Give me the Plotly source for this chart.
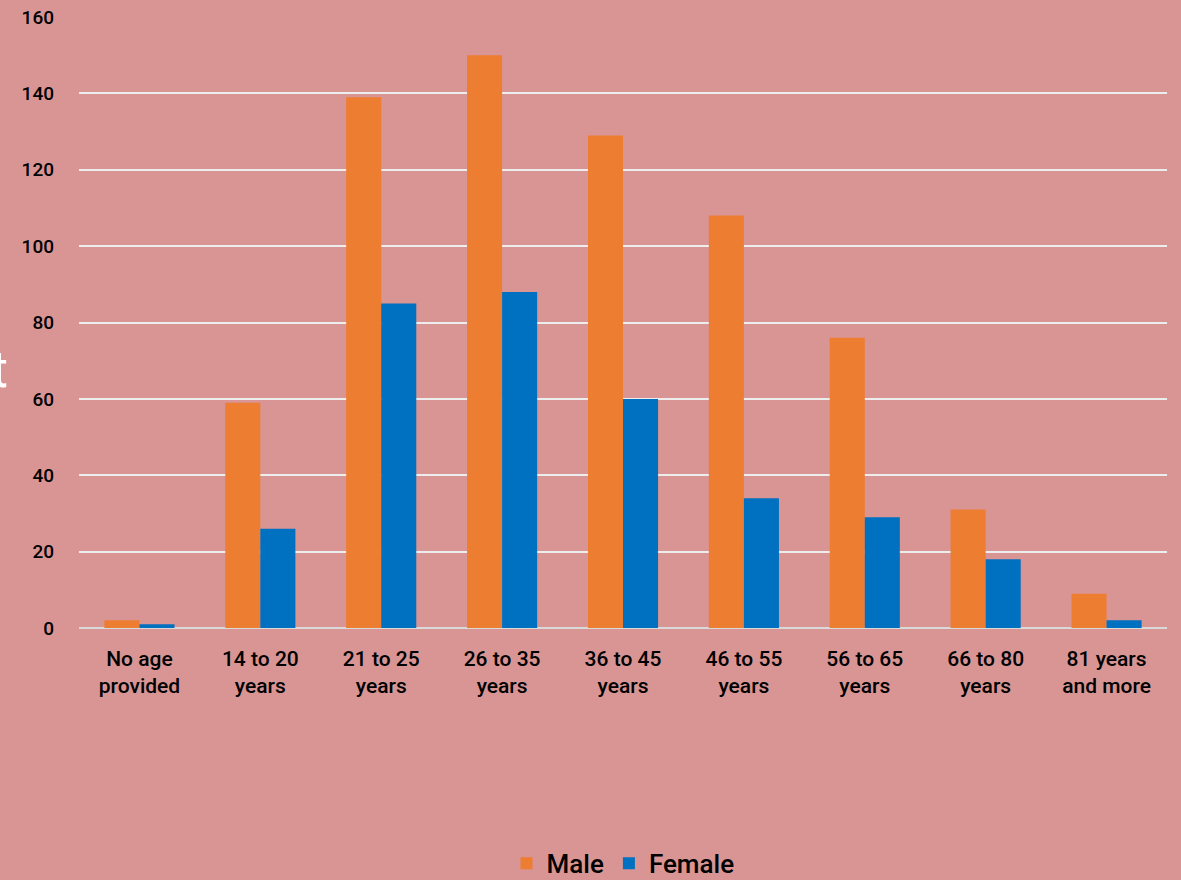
import plotly.graph_objects as go

categories = ["No age<br>provided", "14 to 20<br>years", "21 to 25<br>years", "26 to 35<br>years",
              "36 to 45<br>years", "46 to 55<br>years", "56 to 65<br>years", "66 to 80<br>years",
              "81 years<br>and more"]
male = [2, 59, 139, 150, 129, 108, 76, 31, 9]
female = [1, 26, 85, 88, 60, 34, 29, 18, 2]
y_ticks = [0, 20, 40, 60, 80, 100, 120, 140, 160]

BG = "#D99594"
FONT = "Roboto"

fig = go.Figure()
fig.add_trace(go.Bar(x=categories, y=male, name="Male", marker_color="#ED7D31",
                     marker_line_width=0))
fig.add_trace(go.Bar(x=categories, y=female, name="Female", marker_color="#0070C0",
                     marker_line_width=0))

fig.update_layout(
    width=1181, height=880,
    margin=dict(l=79, r=14, t=17, b=252, autoexpand=False),
    paper_bgcolor=BG, plot_bgcolor=BG,
    barmode="group", bargap=0.42, bargroupgap=0,
    font=dict(family=FONT, color="black", size=20),
    legend=dict(orientation="h", x=0.5, xanchor="center", y=-0.385, yanchor="middle",
                font=dict(size=26, family=FONT, weight=500), itemwidth=30,
                traceorder="normal", bgcolor="rgba(0,0,0,0)"),
    showlegend=True,
)
fig.update_xaxes(showgrid=False, showline=False, zeroline=False, ticks="", automargin=False,
                 ticklabelstandoff=16,
                 tickfont=dict(size=21, family=FONT, color="black", weight=500))
fig.update_yaxes(range=[0, 160], tickvals=y_ticks, showgrid=True, gridcolor="#EDEDED",
                 gridwidth=1.5, zeroline=True, zerolinecolor="#D9D9D9", zerolinewidth=2,
                 showline=False, ticks="", ticklabelstandoff=24, automargin=False,
                 tickfont=dict(size=19, family=FONT, color="black", weight=500))

# partially visible side caption at the left edge
fig.add_annotation(text="t", xref="paper", yref="paper", x=-79 / 1088, y=(628 - 369) / 611,
                   xanchor="right", xshift=10, yanchor="middle", showarrow=False,
                   font=dict(size=52, color="white", family=FONT))

fig.write_html("out.html")
